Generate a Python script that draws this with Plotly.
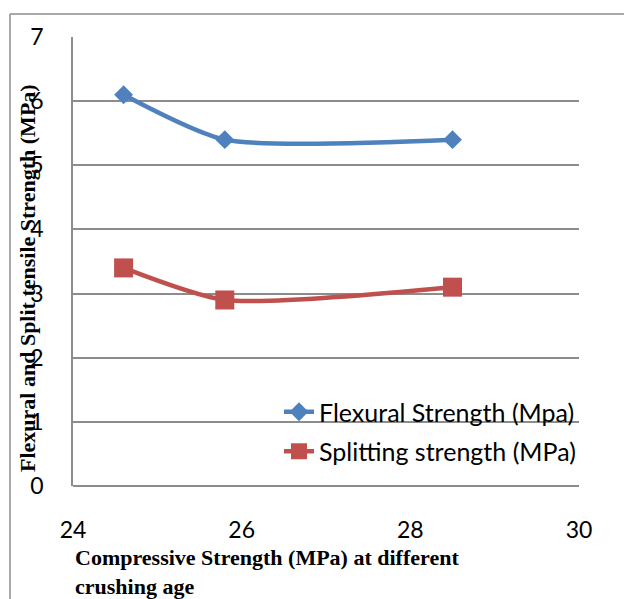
import plotly.graph_objects as go

compressive = [24.6, 25.8, 28.5]
flexural = [6.1, 5.4, 5.4]
splitting = [3.4, 2.9, 3.1]
series_names = ["Flexural Strength (Mpa)", "Splitting strength (MPa)"]
x_ticks = [24, 26, 28, 30]
y_ticks = [0, 1, 2, 3, 4, 5, 6, 7]
x_title = "Compressive Strength (MPa) at different<br>crushing age"
y_title = "Flexural and Split tensile Strength (MPa)"

BLUE = "#4F81BD"
RED = "#C0504D"
GRID = "#8C8C8C"
TICKFONT = dict(family="Lato", size=23, color="#000000")
TITLEFONT = dict(family="Liberation Serif", size=22, color="#000000")

fig = go.Figure()
fig.add_trace(go.Scatter(
    x=compressive, y=flexural, name=series_names[0], mode="lines+markers",
    line=dict(color=BLUE, width=4.5, shape="spline", smoothing=0.65),
    marker=dict(symbol="diamond", size=14.5, color=BLUE),
    legendgroup="a",
))
fig.add_trace(go.Scatter(
    x=compressive, y=splitting, name=series_names[1], mode="lines+markers",
    line=dict(color=RED, width=4.5, shape="spline", smoothing=0.65),
    marker=dict(symbol="square", size=19, color=RED),
    legendgroup="b",
))

W, H = 624, 599
L, R, T, B = 73, 45, 37, 113
pw = W - L - R
ph = H - T - B

def px_x(p):
    return (p - L) / pw

def px_y(p):
    return (H - B - p) / ph

fig.update_layout(
    width=W, height=H,
    margin=dict(l=L, r=R, t=T, b=B),
    paper_bgcolor="white", plot_bgcolor="white",
    showlegend=True,
    legend=dict(
        x=px_x(279), y=px_y(389), xanchor="left", yanchor="top",
        font=dict(family="Lato", size=25, color="#000000"),
        bgcolor="rgba(0,0,0,0)", traceorder="grouped", tracegroupgap=4,
    ),
    xaxis=dict(
        range=[24, 30], tickvals=x_ticks, ticktext=[str(v) for v in x_ticks],
        showgrid=False, zeroline=False, showline=False, ticks="",
        tickfont=TICKFONT, ticklabelstandoff=28,
    ),
    yaxis=dict(
        range=[0, 7], tickvals=y_ticks, ticktext=[str(v) for v in y_ticks],
        showgrid=True, gridcolor=GRID, gridwidth=1.5,
        zeroline=True, zerolinecolor=GRID, zerolinewidth=1.5,
        showline=True, linecolor=GRID, linewidth=1.5, ticks="",
        tickfont=TICKFONT, ticklabelstandoff=23,
    ),
    annotations=[
        dict(text="<b>" + x_title + "</b>", xref="paper", yref="paper",
             x=px_x(73), y=px_y(572), xanchor="left", yanchor="middle",
             align="left", showarrow=False, font=TITLEFONT),
        dict(text="<b>" + y_title + "</b>", xref="paper", yref="paper",
             x=px_x(27), y=px_y(278), xanchor="center", yanchor="middle",
             textangle=-90, showarrow=False, font=TITLEFONT),
    ],
    shapes=[
        dict(type="line", xref="paper", yref="paper",
             x0=px_x(10), x1=px_x(640), y0=px_y(14), y1=px_y(14),
             line=dict(color="#8C8C8C", width=1.5)),
        dict(type="line", xref="paper", yref="paper",
             x0=px_x(10), x1=px_x(10), y0=px_y(14), y1=px_y(620),
             line=dict(color="#8C8C8C", width=1.5)),
    ],
)

fig.write_html("out.html")
